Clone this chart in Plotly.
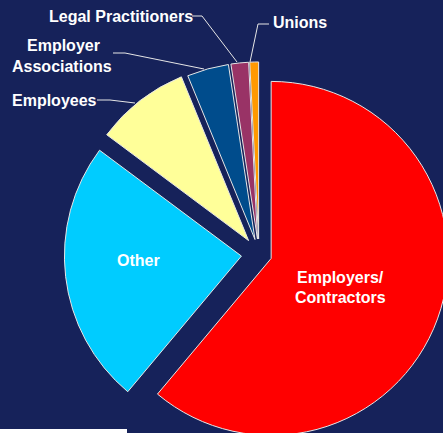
import plotly.graph_objects as go

# ---- data ----
categories = ["Employers/<br>Contractors", "Other", "Employees",
              "Employer Associations", "Legal Practitioners", "Unions"]
values = [61.1, 24.1, 8.6, 3.8, 1.6, 0.8]
colors = ["#FF0000", "#00CCFF", "#FFFF99", "#004C8C", "#993366", "#FF9900"]
pulls = [0.073, 0.10, 0.096, 0.085, 0.085, 0.085]

BG = "#16225A"
W, H = 454, 449          # canvas larger than the window: the pie is cut by the window edge
CX, CY, R = 259, 254, 177
half = R * (1 + max(pulls))

def px(x):
    return x / W

def py(y):
    return 1 - y / H

fig = go.Figure(go.Pie(
    labels=categories,
    values=values,
    sort=False,
    direction="clockwise",
    rotation=0,
    pull=pulls,
    marker=dict(colors=colors, line=dict(color="#E6E6E6", width=1)),
    textinfo="none",
    hoverinfo="label+percent",
    showlegend=False,
    domain=dict(x=[(CX - half) / W, (CX + half) / W],
                y=[1 - (CY + half) / H, 1 - (CY - half) / H]),
))

font = dict(family="Liberation Sans, Arial, sans-serif", size=16, color="white")

labels_pos = [
    ("<b>Employers/</b>", 340, 277, "center"),
    ("<b>Contractors</b>", 340, 297, "center"),
    ("<b>Other</b>", 138, 260, "center"),
    ("<b>Employees</b>", 10, 100, "left"),
    ("<b>Employer</b>", 63, 45, "center"),
    ("<b>Associations</b>", 62, 66, "center"),
    ("<b>Legal Practitioners</b>", 47, 17, "left"),
    ("<b>Unions</b>", 271, 23, "left"),
]
annotations = []
for txt, x, y, anchor in labels_pos:
    annotations.append(dict(text=txt, x=px(x), y=py(y), xref="paper", yref="paper",
                            xanchor=anchor, yanchor="middle", showarrow=False, font=font))

leaders = [
    [(97, 100), (110, 100), (135, 103)],
    [(113, 53), (125, 53), (204, 69)],
    [(192, 16), (202, 16), (237, 62)],
    [(269, 24), (258, 24), (250, 62)],
]
shapes = []
for pts in leaders:
    path = "M " + " L ".join(f"{px(x)},{py(y)}" for x, y in pts)
    shapes.append(dict(type="path", path=path, xref="paper", yref="paper",
                       line=dict(color="#E6E6E6", width=1)))
shapes.append(dict(type="rect", xref="paper", yref="paper",
                   x0=px(0), x1=px(127), y0=py(433), y1=py(429),
                   fillcolor="white", line=dict(width=0)))

fig.update_layout(
    width=W, height=H,
    margin=dict(l=0, r=0, t=0, b=0),
    paper_bgcolor=BG, plot_bgcolor=BG,
    annotations=annotations,
    shapes=shapes,
)

fig.write_html("out.html",
               config={"displayModeBar": False},
               post_script="document.body.style.margin='0';document.body.style.overflow='hidden';document.body.style.background='" + BG + "';")
